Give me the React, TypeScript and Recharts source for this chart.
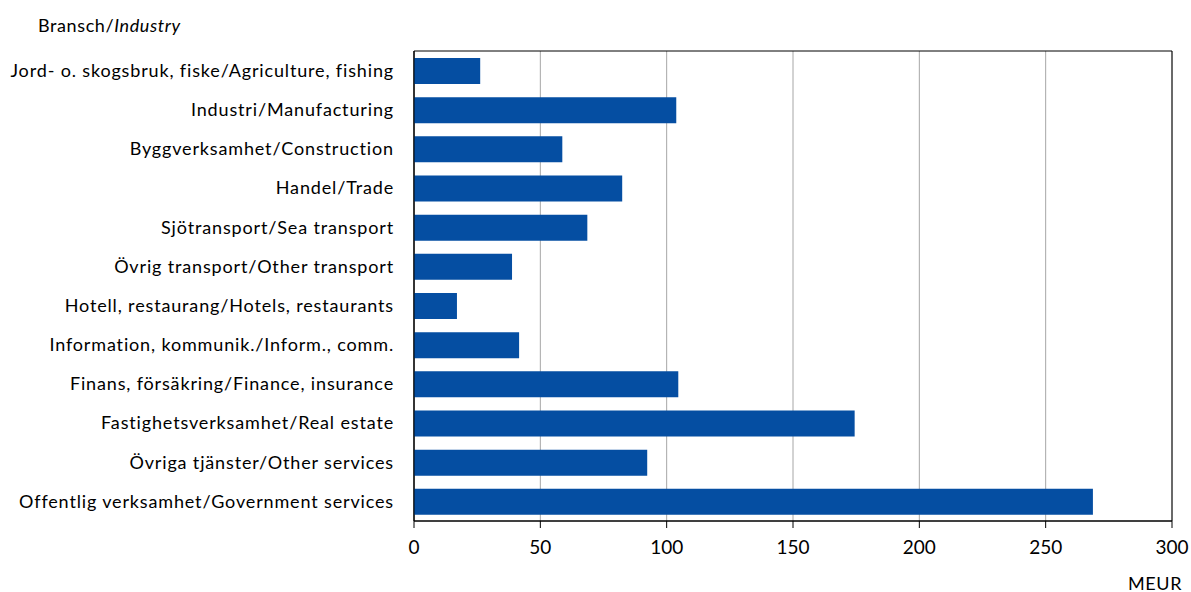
import { BarChart, Bar, XAxis, YAxis, CartesianGrid, ReferenceArea } from 'recharts';

const industries = [
    'Jord- o. skogsbruk, fiske/Agriculture, fishing',
    'Industri/Manufacturing',
    'Byggverksamhet/Construction',
    'Handel/Trade',
    'Sjötransport/Sea transport',
    'Övrig transport/Other transport',
    'Hotell, restaurang/Hotels, restaurants',
    'Information, kommunik./Inform., comm.',
    'Finans, försäkring/Finance, insurance',
    'Fastighetsverksamhet/Real estate',
    'Övriga tjänster/Other services',
    'Offentlig verksamhet/Government services',
];

const values = [26.2, 103.8, 58.7, 82.4, 68.6, 38.8, 17.0, 41.6, 104.6, 174.4, 92.3, 268.7];

const xTicks = [0, 50, 100, 150, 200, 250, 300];

const data = industries.map((name, i) => ({ name, value: values[i] }));

const FONT = 'Lato, "Open Sans", sans-serif';

export default function App() {
    return (
        <div style={{ position: 'absolute', left: 0, top: 0, width: 1191, height: 592, fontFamily: FONT, background: '#fff' }}>
            <div style={{ position: 'absolute', left: 38, top: 14, fontSize: 18, color: '#000', letterSpacing: 0.6 }}>
                Bransch/<i>Industry</i>
            </div>
            <BarChart
                width={1191}
                height={592}
                data={data}
                layout="vertical"
                margin={{ top: 51, right: 19, bottom: 0, left: 0 }}
            >
                <CartesianGrid horizontal={false} stroke="#a6a6a6" strokeWidth={1} />
                <XAxis
                    type="number"
                    domain={[0, 300]}
                    ticks={xTicks}
                    height={71}
                    tickSize={7}
                    tickMargin={13}
                    tick={{ fontSize: 19, fill: '#000', fontFamily: FONT }}
                    axisLine={{ stroke: '#000' }}
                    tickLine={{ stroke: '#000' }}
                />
                <YAxis
                    type="category"
                    dataKey="name"
                    width={414}
                    tickLine={false}
                    tickSize={18}
                    tickMargin={2}
                    interval={0}
                    tick={{ fontSize: 18, fill: '#000', fontFamily: FONT, letterSpacing: 0.85 }}
                    axisLine={{ stroke: '#000' }}
                />
                <ReferenceArea x1={0} x2={300} fill="none" stroke="#000" strokeWidth={1} />
                <Bar dataKey="value" fill="#054ea2" barSize={26} isAnimationActive={false} />
            </BarChart>
            <div style={{ position: 'absolute', left: 1128, top: 572, fontSize: 18, color: '#000', letterSpacing: 0.6 }}>MEUR</div>
        </div>
    );
}
